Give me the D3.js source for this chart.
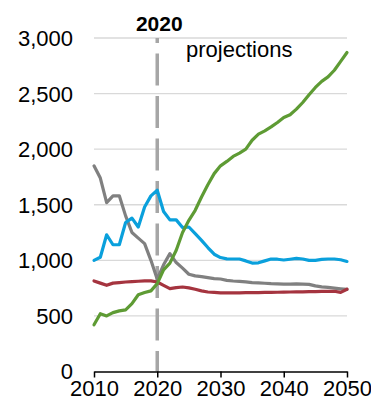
<!DOCTYPE html>
<html>
<head>
<meta charset="utf-8">
<script src="https://cdn.jsdelivr.net/npm/d3@7"></script>
<style>
  html, body { margin: 0; padding: 0; background: #fff; }
  svg { display: block; }
  text { font-family: "Liberation Sans", Arial, sans-serif; }
</style>
</head>
<body>
<script>
const years = d3.range(2010, 2051);
const xTickValues = [2010, 2020, 2030, 2040, 2050];
const yTickValues = [0, 500, 1000, 1500, 2000, 2500, 3000];

const grayValues = [1850, 1740, 1520, 1580, 1580, 1400, 1250, 1200, 1150, 1000,
  830, 960, 1060, 980, 930, 875, 860, 853, 844, 836,
  832, 820, 814, 810, 806, 800, 798, 794, 790, 788,
  786, 786, 788, 786, 784, 770, 762, 756, 750, 744, 738];
const redValues = [815, 795, 775, 795, 800, 805, 808, 812, 815, 815,
  805, 775, 745, 755, 760, 752, 740, 725, 715, 712,
  708, 708, 708, 708, 709, 710, 710, 711, 712, 713,
  714, 715, 716, 717, 718, 719, 720, 721, 722, 712, 740];
const blueValues = [1000, 1028, 1230, 1140, 1140, 1340, 1380, 1300, 1480, 1580,
  1630, 1440, 1364, 1364, 1295, 1300, 1240, 1180, 1115, 1055,
  1025, 1013, 1012, 1012, 995, 975, 978, 995, 1012, 1010,
  1003, 1010, 1018, 1012, 1000, 1000, 1008, 1012, 1012, 1005, 990];
const greenValues = [420, 520, 500, 530, 545, 555, 610, 690, 710, 725,
  790, 915, 975, 1090, 1250, 1360, 1450, 1570, 1680, 1780,
  1850, 1890, 1935, 1965, 2000, 2080, 2135, 2165, 2200, 2240,
  2285, 2310, 2360, 2420, 2490, 2555, 2610, 2650, 2710, 2790, 2870];

const seriesNames = ["gray", "red", "blue", "green"];
const seriesColors = ["#808080", "#a5343f", "#0aa0dc", "#5e9b34"];
const seriesValues = [grayValues, redValues, blueValues, greenValues];

const dividerYear = 2020;
const dividerLabel = "2020";
const projectionLabel = "projections";

const W = 371, H = 409;
const margin = {left: 94, right: 24, top: 38, bottom: 37.5};

const svg = d3.select("body").append("svg")
  .attr("width", W).attr("height", H);

const x = d3.scaleLinear().domain([2010, 2050]).range([margin.left, W - margin.right]);
const y = d3.scaleLinear().domain([0, 3000]).range([H - margin.bottom, margin.top]);

// gridlines
svg.append("g")
  .selectAll("line")
  .data(yTickValues.filter(d => d > 0))
  .join("line")
  .attr("x1", x(2010)).attr("x2", x(2050))
  .attr("y1", d => y(d)).attr("y2", d => y(d))
  .attr("stroke", "#d9d9d9").attr("stroke-width", 1.3);

// y labels
svg.append("g")
  .selectAll("text")
  .data(yTickValues)
  .join("text")
  .attr("x", 73).attr("y", d => y(d))
  .attr("dy", "0.36em")
  .attr("text-anchor", "end")
  .attr("font-size", 22)
  .attr("fill", "#000")
  .text(d => d3.format(",")(d));

// divider dashed line (drawn from top)
svg.append("line")
  .attr("x1", x(dividerYear)).attr("x2", x(dividerYear))
  .attr("y1", y(3000)).attr("y2", y(0))
  .attr("stroke", "#a6a6a6").attr("stroke-width", 3.5)
  .attr("stroke-dasharray", "32,10.5")
  .attr("stroke-dashoffset", 27);

// x axis
const xAxis = d3.axisBottom(x).tickValues(xTickValues).tickFormat(d3.format("d")).tickSize(6).tickSizeOuter(0);
const gx = svg.append("g").attr("transform", `translate(0,${y(0)})`).call(xAxis);
gx.select(".domain").attr("stroke", "#000").attr("stroke-width", 1.5);
gx.selectAll(".tick line").attr("stroke", "#000").attr("stroke-width", 1.5);
gx.selectAll(".tick text")
  .attr("font-size", 22)
  .attr("font-family", "Liberation Sans, Arial, sans-serif")
  .attr("fill", "#000")
  .attr("y", 9);

// lines
const line = d3.line().x((d, i) => x(years[i])).y(d => y(d)).curve(d3.curveLinear);
svg.append("g")
  .selectAll("path")
  .data(seriesValues)
  .join("path")
  .attr("d", d => line(d))
  .attr("fill", "none")
  .attr("stroke", (d, i) => seriesColors[i])
  .attr("stroke-width", 3.2)
  .attr("stroke-linejoin", "round")
  .attr("stroke-linecap", "round");

// labels
svg.append("text")
  .attr("x", x(dividerYear) + 2).attr("y", 31)
  .attr("text-anchor", "middle")
  .attr("font-size", 21).attr("font-weight", "bold")
  .text(dividerLabel);

svg.append("text")
  .attr("x", 186).attr("y", 57)
  .attr("font-size", 22)
  .text(projectionLabel);
</script>
</body>
</html>
